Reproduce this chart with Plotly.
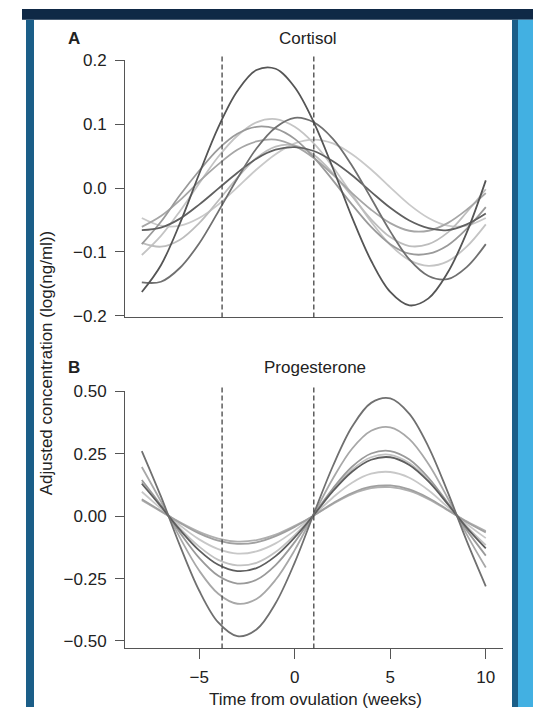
import plotly.graph_objects as go

# ---------------- data ----------------
weeks = list(range(-8, 11))          # time from ovulation (weeks)
phase_bounds = [-3.8, 1.0]           # dashed vertical lines

cortisol_1 = [-0.163,-0.121,-0.055,0.022,0.095,0.152,0.185,0.187,0.158,0.103,0.031,-0.046,-0.114,-0.163,-0.184,-0.173,-0.133,-0.070,0.012]
cortisol_2 = [-0.148,-0.147,-0.125,-0.087,-0.037,0.015,0.062,0.095,0.110,0.103,0.077,0.035,-0.016,-0.068,-0.112,-0.138,-0.143,-0.124,-0.088]
cortisol_3 = [-0.066,-0.062,-0.048,-0.026,-0.001,0.024,0.046,0.060,0.064,0.058,0.042,0.020,-0.006,-0.031,-0.051,-0.063,-0.066,-0.057,-0.040]
cortisol_4 = [-0.047,-0.059,-0.059,-0.047,-0.026,0.001,0.029,0.053,0.070,0.076,0.070,0.053,0.029,0.001,-0.026,-0.047,-0.059,-0.059,-0.047]
cortisol_5 = [-0.105,-0.075,-0.036,0.007,0.049,0.082,0.103,0.108,0.096,0.070,0.033,-0.010,-0.053,-0.089,-0.113,-0.122,-0.115,-0.092,-0.057]
cortisol_6 = [-0.088,-0.053,-0.011,0.027,0.061,0.085,0.096,0.093,0.077,0.048,0.012,-0.026,-0.061,-0.088,-0.103,-0.103,-0.090,-0.064,-0.030]
cortisol_7 = [-0.086,-0.092,-0.081,-0.055,-0.020,0.016,0.047,0.065,0.067,0.052,0.023,-0.013,-0.049,-0.077,-0.091,-0.088,-0.070,-0.038,-0.002]
cortisol_8 = [-0.061,-0.044,-0.019,0.010,0.037,0.060,0.073,0.076,0.066,0.047,0.021,-0.008,-0.034,-0.055,-0.067,-0.067,-0.055,-0.034,-0.008]

progesterone_1 = [0.261,0.079,-0.119,-0.298,-0.426,-0.481,-0.454,-0.349,-0.186,0.010,0.201,0.358,0.454,0.472,0.410,0.278,0.098,-0.099,-0.281]
progesterone_2 = [0.197,0.059,-0.087,-0.218,-0.311,-0.351,-0.332,-0.255,-0.136,0.008,0.151,0.270,0.342,0.356,0.309,0.209,0.074,-0.073,-0.206]
progesterone_3 = [0.145,0.044,-0.067,-0.167,-0.239,-0.270,-0.255,-0.196,-0.104,0.006,0.111,0.198,0.251,0.261,0.227,0.154,0.054,-0.056,-0.158]
progesterone_4 = [0.136,0.041,-0.049,-0.122,-0.175,-0.197,-0.187,-0.144,-0.076,0.005,0.104,0.186,0.236,0.246,0.213,0.144,0.051,-0.041,-0.116]
progesterone_5 = [0.130,0.039,-0.055,-0.137,-0.195,-0.220,-0.208,-0.160,-0.085,0.005,0.100,0.178,0.226,0.236,0.205,0.139,0.049,-0.046,-0.129]
progesterone_6 = [0.098,0.030,-0.037,-0.093,-0.132,-0.150,-0.141,-0.109,-0.058,0.004,0.075,0.134,0.170,0.177,0.154,0.104,0.037,-0.031,-0.088]
progesterone_7 = [0.068,0.021,-0.027,-0.069,-0.098,-0.111,-0.105,-0.080,-0.043,0.003,0.052,0.093,0.118,0.123,0.107,0.073,0.026,-0.023,-0.065]
progesterone_8 = [0.064,0.019,-0.025,-0.063,-0.090,-0.102,-0.096,-0.074,-0.039,0.002,0.049,0.088,0.112,0.116,0.101,0.068,0.024,-0.021,-0.060]

cortisol_ticks = [-0.2, -0.1, 0.0, 0.1, 0.2]
cortisol_ticktext = ["\u22120.2", "\u22120.1", "0.0", "0.1", "0.2"]
progesterone_ticks = [-0.5, -0.25, 0.0, 0.25, 0.5]
progesterone_ticktext = ["\u22120.50", "\u22120.25", "0.00", "0.25", "0.50"]
week_ticks = [-5, 0, 5, 10]
week_ticktext = ["\u22125", "0", "5", "10"]

# ---------------- styling ----------------
W, H = 533, 715
FONT = "Liberation Sans, Arial, Helvetica, sans-serif"

def px_x(p):
    return p / W

def px_y(p):
    return 1 - p / H

cortisol_series = [
    (cortisol_4, "#c9c9c9"), (cortisol_5, "#c4c4c4"), (cortisol_7, "#bdbdbd"),
    (cortisol_8, "#a6a6a6"), (cortisol_6, "#9a9a9a"), (cortisol_3, "#606060"),
    (cortisol_2, "#707070"), (cortisol_1, "#555555"),
]
progesterone_series = [
    (progesterone_6, "#c8c8c8"), (progesterone_4, "#c2c2c2"), (progesterone_8, "#b0b0b0"),
    (progesterone_7, "#a0a0a0"), (progesterone_2, "#a8a8a8"), (progesterone_3, "#9a9a9a"),
    (progesterone_5, "#5e5e5e"), (progesterone_1, "#707070"),
]

fig = go.Figure()
for ys, col in cortisol_series:
    fig.add_trace(go.Scatter(x=weeks, y=ys, mode="lines", xaxis="x", yaxis="y",
                             line=dict(color=col, width=1.8, shape="spline", smoothing=1.0),
                             showlegend=False, hoverinfo="skip"))
for ys, col in progesterone_series:
    fig.add_trace(go.Scatter(x=weeks, y=ys, mode="lines", xaxis="x2", yaxis="y2",
                             line=dict(color=col, width=1.8, shape="spline", smoothing=1.0),
                             showlegend=False, hoverinfo="skip"))

xdom = [px_x(125), px_x(503)]
xr = [-8.88, 10.9]
tickfont = dict(family=FONT, size=17, color="#222222")
line_common = dict(showgrid=False, zeroline=False, linecolor="#555555", linewidth=1,
                   tickcolor="#555555", tickwidth=1)

fig.update_layout(
    width=W, height=H, margin=dict(l=0, r=0, t=0, b=0),
    paper_bgcolor="white", plot_bgcolor="white",
    xaxis=dict(domain=xdom, range=xr, anchor="y", showline=True, showticklabels=False,
               ticks="", **line_common),
    yaxis=dict(domain=[px_y(316), px_y(52.7)], range=[-0.203, 0.2], anchor="x",
               showline=True, ticks="outside", ticklen=9, ticklabelstandoff=5,
               tickvals=cortisol_ticks, ticktext=cortisol_ticktext, tickfont=tickfont, **line_common),
    xaxis2=dict(domain=xdom, range=xr, anchor="y2", showline=True, ticks="outside", ticklen=10,
                ticklabelstandoff=3,
                tickvals=week_ticks, ticktext=week_ticktext, tickfont=tickfont, **line_common),
    yaxis2=dict(domain=[px_y(655), px_y(391.7)], range=[-0.530, 0.5], anchor="x2",
                showline=True, ticks="outside", ticklen=9, ticklabelstandoff=5,
                tickvals=progesterone_ticks, ticktext=progesterone_ticktext, tickfont=tickfont,
                **line_common),
)

shapes = []
# decorative frame
shapes.append(dict(type="rect", xref="paper", yref="paper", x0=px_x(22), x1=1, y0=px_y(11), y1=1,
                   fillcolor="#0f2946", line=dict(width=0), layer="above"))
shapes.append(dict(type="rect", xref="paper", yref="paper", x0=px_x(26), x1=px_x(34), y0=0, y1=px_y(11),
                   fillcolor="#1b5e88", line=dict(width=0)))
shapes.append(dict(type="rect", xref="paper", yref="paper", x0=px_x(512), x1=px_x(518), y0=0, y1=px_y(11),
                   fillcolor="#1b5e88", line=dict(width=0)))
shapes.append(dict(type="rect", xref="paper", yref="paper", x0=px_x(518), x1=1, y0=0, y1=px_y(11),
                   fillcolor="#42b0e2", line=dict(width=0)))
# dashed phase lines
for xv in phase_bounds:
    shapes.append(dict(type="line", xref="x", yref="paper", x0=xv, x1=xv, y0=px_y(316), y1=px_y(47),
                       line=dict(color="#444444", width=1.3, dash="5px,3px")))
    shapes.append(dict(type="line", xref="x2", yref="paper", x0=xv, x1=xv, y0=px_y(655), y1=px_y(386),
                       line=dict(color="#444444", width=1.3, dash="5px,3px")))
fig.update_layout(shapes=shapes)

tf = dict(family=FONT, size=17, color="#222222")
ann = [
    dict(text="<b>A</b>", x=px_x(66), y=px_y(30), xanchor="left", yanchor="middle"),
    dict(text="Cortisol", x=px_x(308), y=px_y(30), xanchor="center", yanchor="middle"),
    dict(text="<b>B</b>", x=px_x(66), y=px_y(367), xanchor="left", yanchor="middle"),
    dict(text="Progesterone", x=px_x(315), y=px_y(367), xanchor="center", yanchor="middle"),
    dict(text="Time from ovulation (weeks)", x=px_x(315.5), y=px_y(707), xanchor="center", yanchor="middle"),
    dict(text="Adjusted concentration (log(ng/ml))", x=px_x(46), y=px_y(363), xanchor="center",
         yanchor="middle", textangle=-90),
]
fig.update_layout(annotations=[dict(a, xref="paper", yref="paper", showarrow=False, font=tf) for a in ann])

fig.write_html("out.html")
